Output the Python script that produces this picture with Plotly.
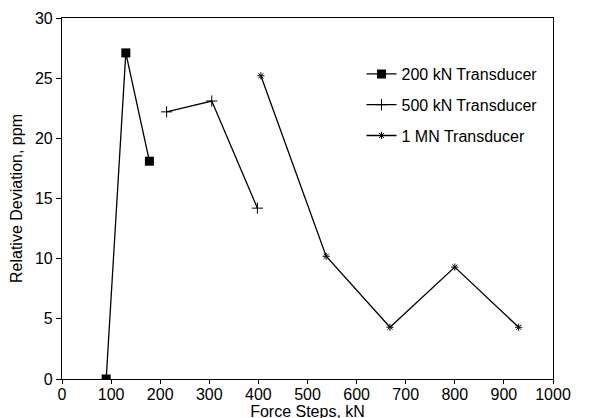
import plotly.graph_objects as go

x_200kN = [90, 130, 178]
y_200kN = [0.0, 27.1, 18.1]

x_500kN = [213, 305, 398]
y_500kN = [22.2, 23.1, 14.2]

x_1MN = [405, 538, 668, 800, 930]
y_1MN = [25.2, 10.2, 4.3, 9.3, 4.3]

x_ticks = list(range(0, 1001, 100))
y_ticks = list(range(0, 31, 5))

FONT = "Liberation Sans, Arial, Helvetica, sans-serif"

fig = go.Figure()
fig.add_trace(go.Scatter(
    x=x_200kN, y=y_200kN, mode="lines+markers", name="200 kN Transducer",
    legendgroup="a",
    line=dict(color="black", width=1.3),
    marker=dict(symbol="square", size=9, color="black"),
))
fig.add_trace(go.Scatter(
    x=x_500kN, y=y_500kN, mode="lines+markers", name="500 kN Transducer",
    legendgroup="b",
    line=dict(color="black", width=1.3),
    marker=dict(symbol="cross-thin", size=8, color="black",
                line=dict(color="black", width=1)),
))
fig.add_trace(go.Scatter(
    x=x_1MN, y=y_1MN, mode="lines+markers", name="1 MN Transducer",
    legendgroup="c",
    line=dict(color="black", width=1.3),
    marker=dict(symbol="asterisk-open", size=6, color="black",
                line=dict(color="black", width=1)),
))

fig.update_layout(
    width=602, height=418,
    margin=dict(l=54, r=57, t=10, b=47),
    paper_bgcolor="white", plot_bgcolor="white",
    font=dict(family=FONT, size=16, color="black"),
    showlegend=True,
    legend=dict(
        x=0.61, y=0.892, xanchor="left", yanchor="top",
        bgcolor="rgba(0,0,0,0)", borderwidth=0,
        font=dict(family=FONT, size=16, color="black"),
        traceorder="grouped", tracegroupgap=7,
        itemwidth=30,
    ),
)
fig.update_xaxes(
    range=[0, 1000], tickvals=x_ticks, ticktext=[str(v) for v in x_ticks],
    showgrid=False, zeroline=False, showline=True, linecolor="black", linewidth=1.1,
    mirror=True, ticks="outside", ticklen=4, tickcolor="black",
    tickfont=dict(size=16), automargin=False, ticklabelstandoff=-3,
    title=dict(text="Force Steps, kN", font=dict(size=16), standoff=2),
)
fig.update_yaxes(
    range=[0, 30], tickvals=y_ticks, ticktext=[str(v) for v in y_ticks],
    showgrid=False, zeroline=False, showline=True, linecolor="black", linewidth=1.1,
    mirror=True, ticks="outside", ticklen=5, tickcolor="black",
    tickfont=dict(size=16), automargin=False,
    title=dict(text="Relative Deviation, ppm", font=dict(size=16), standoff=8),
)

fig.write_html("out.html")
